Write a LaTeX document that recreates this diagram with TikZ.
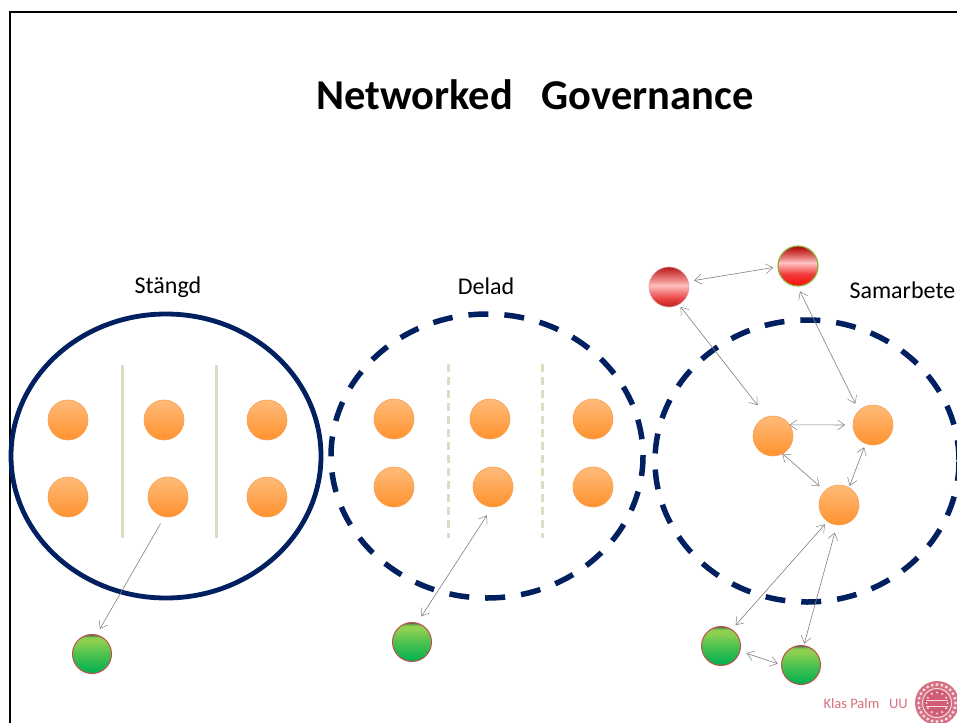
\documentclass[tikz,border=0pt]{standalone}
\usepackage{fontspec}
\setmainfont{Carlito}
\usetikzlibrary{arrows.meta}
\definecolor{navy}{HTML}{002060}
\definecolor{sepline}{HTML}{D8DFC2}
\definecolor{orangeedge}{HTML}{F7A050}
\definecolor{greenedge}{HTML}{C0504D}
\definecolor{rededge}{HTML}{C86060}
\definecolor{red2edge}{HTML}{8DB03A}
\definecolor{conncol}{HTML}{808080}
\definecolor{signcol}{HTML}{D7707F}
\definecolor{logocol}{HTML}{C8405A}
\definecolor{orA}{RGB}{255,146,46}
\definecolor{orB}{RGB}{255,187,122}
\definecolor{grA}{RGB}{0,176,80}
\definecolor{grM}{RGB}{70,192,80}
\definecolor{grB}{RGB}{140,208,80}
\definecolor{grC}{RGB}{110,160,80}
\definecolor{grD}{RGB}{70,100,80}
\definecolor{raA}{RGB}{190,30,30}
\definecolor{raB}{RGB}{235,70,70}
\definecolor{raC}{RGB}{255,190,190}
\definecolor{raD}{RGB}{240,140,140}
\definecolor{raE}{RGB}{185,25,25}
\definecolor{rbA}{RGB}{255,10,10}
\definecolor{rbB}{RGB}{240,60,60}
\definecolor{rbC}{RGB}{255,195,195}
\definecolor{rbD}{RGB}{225,110,110}
\definecolor{rbE}{RGB}{175,0,0}
\pgfdeclareverticalshading{orangeshade}{100bp}{color(0bp)=(orA); color(25bp)=(orA); color(75bp)=(orB); color(100bp)=(orB)}
\pgfdeclareverticalshading{greenshade}{100bp}{color(0bp)=(grA); color(25bp)=(grA); color(48bp)=(grM); color(66bp)=(grB); color(71bp)=(grB); color(73bp)=(grC); color(75bp)=(grD); color(100bp)=(grD)}
\pgfdeclareverticalshading{redshadeA}{100bp}{color(0bp)=(raA); color(25bp)=(raA); color(36bp)=(raB); color(52bp)=(raC); color(58bp)=(raD); color(75bp)=(raE); color(100bp)=(raE)}
\pgfdeclareverticalshading{redshadeB}{100bp}{color(0bp)=(rbA); color(25bp)=(rbA); color(40bp)=(rbB); color(54bp)=(rbC); color(62bp)=(rbD); color(75bp)=(rbE); color(100bp)=(rbE)}
\tikzset{
  ball/.style={circle, minimum size=40pt, inner sep=0pt, outer sep=0pt, shade},
  orangeball/.style={ball, shading=orangeshade, draw=orangeedge, line width=0.6pt},
  greenball/.style={ball, minimum size=39pt, shading=greenshade, draw=greenedge, line width=1pt},
  redballA/.style={ball, shading=redshadeA, draw=rededge!60, line width=0.6pt},
  redballB/.style={ball, shading=redshadeB, draw=red2edge, line width=1.2pt},
  solidring/.style={draw=navy, line width=4.8pt},
  dashring/.style={draw=navy, line width=5.5pt, dash pattern=on 20pt off 16pt},
  wall/.style={draw=sepline, line width=3pt},
  dashwall/.style={draw=sepline, line width=3pt, dash pattern=on 8pt off 5pt},
  tip/.tip={Straight Barb[length=7pt,width=10pt,line width=0.5pt]},
  conn/.style={draw=conncol, line width=0.6pt, tip-tip},
  oneway/.style={draw=conncol, line width=0.6pt, -tip},
  label/.style={font=\fontsize{24}{28}\selectfont, anchor=base},
}
\begin{document}
\begin{tikzpicture}[x=1pt,y=-1pt]
\useasboundingbox (0,0) rectangle (957,722);
\fill[white] (0,0) rectangle (957,722);
% frame
\draw[black, line width=2.6pt] (10,730) -- (10,12) -- (965,12);
% title
\node[font=\fontsize{42.5}{46}\selectfont\bfseries, anchor=base] (title) at (535,110) {Networked\ \ \ Governance};
% labels
\node[label] (lstangd) at (168,293) {Stängd};
\node[label] (ldelad) at (486,294) {Delad};
\node[label, anchor=base west] (lsamarb) at (846,298) {Samarbete};
% rings
\draw[solidring] (166,456) ellipse [x radius=155, y radius=142];
\draw[dashring] (487,456) ellipse [x radius=156, y radius=142];
\draw[dashring] (807,461) ellipse [x radius=152, y radius=141];
% walls
\draw[wall] (122,365) -- (122,538);
\draw[wall] (216,365) -- (216,538);
\draw[dashwall] (448,364) -- (448,538);
\draw[dashwall] (542,364) -- (542,538);
% group 1
\node[orangeball] (a1) at (68,420) {};
\node[orangeball] (a2) at (164,420) {};
\node[orangeball] (a3) at (267,420) {};
\node[orangeball] (a4) at (68,497) {};
\node[orangeball] (a5) at (168,497) {};
\node[orangeball] (a6) at (267,497) {};
% group 2
\node[orangeball] (b1) at (394,419) {};
\node[orangeball] (b2) at (490,419) {};
\node[orangeball] (b3) at (593,419) {};
\node[orangeball] (b4) at (394,487) {};
\node[orangeball] (b5) at (493,487) {};
\node[orangeball] (b6) at (593,487) {};
% group 3
\node[orangeball] (s1) at (773,436) {};
\node[orangeball] (s2) at (873,425) {};
\node[orangeball] (s3) at (839,505) {};
\node[redballA] (r1) at (669,287) {};
\node[redballB] (r2) at (798,266) {};
% green
\node[greenball] (g1) at (92,654) {};
\node[greenball] (g2) at (412,642) {};
\node[greenball] (g3) at (721,646) {};
\node[greenball] (g4) at (801,665) {};
% connectors
\draw[oneway, shorten <=8pt, shorten >=7pt] (a5.260) -- (g1.77);
\draw[conn, shorten <=10pt, shorten >=8pt] (b5.268) -- (g2.75);
\draw[conn, shorten <=6pt, shorten >=5pt] (r1.16) -- (r2.182);
\draw[conn, shorten <=3pt, shorten >=15pt] (r1.299) -- (s1.108);
\draw[conn, shorten <=6pt, shorten >=8pt] (r2.268) -- (s2.135);
\draw[conn, shorten <=0pt, shorten >=8pt] (s1.34) -- (s2.180);
\draw[conn, shorten <=0pt, shorten >=7pt] (s1.298) -- (s3.135);
\draw[conn, shorten <=4pt, shorten >=2pt] (s2.248) -- (s3.60);
\draw[conn, shorten <=4pt, shorten >=6pt] (s3.235) -- (g3.57);
\draw[conn, shorten <=8pt, shorten >=2pt] (s3.264) -- (g4.82);
\draw[conn, shorten <=7pt, shorten >=4pt] (g3.345) -- (g4.180);
% signature
\node[font=\fontsize{14.5}{17}\selectfont, text=signcol, anchor=base west] (sig) at (820,708) {Klas Palm\ \ \ UU};
% logo seal
\fill[logocol!75] (937,703) circle [radius=22];
\foreach \a in {0,15,...,345} \fill[white!85!logocol] (937,703) ++(\a:18.5) circle [radius=1.6];
\draw[white!80!logocol, line width=1pt] (937,703) circle [radius=14.5];
\fill[logocol!85] (937,703) circle [radius=13.5];
\foreach \a in {0,30,...,330} \fill[white!80!logocol] (937,703) ++(\a:10.5) circle [radius=1.2];
\draw[white!80!logocol, line width=1pt] (926,700) -- (948,700);
\draw[white!80!logocol, line width=1pt] (926,706) -- (948,706);
\end{tikzpicture}
\end{document}
